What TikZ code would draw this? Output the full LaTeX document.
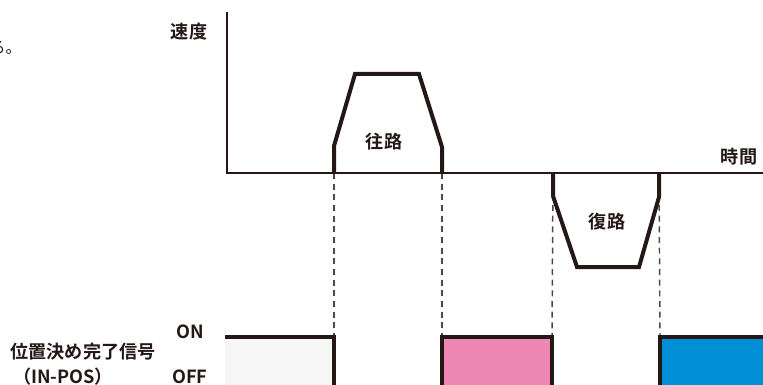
\documentclass[tikz,border=0pt]{standalone}
\usepackage{fontspec}
\newfontfamily\jpb{Noto Sans CJK JP Bold}
\newfontfamily\jpr{Noto Sans CJK JP}
\definecolor{txt}{HTML}{231815}
\definecolor{pinkfill}{HTML}{EE87B3}
\definecolor{bluefill}{HTML}{008FD5}
\definecolor{grayfill}{HTML}{F6F6F6}
\begin{document}
\begin{tikzpicture}[x=0.75pt,y=-0.75pt,
  axisline/.style={draw=txt,line width=1.1pt},
  profile/.style={draw=txt,line width=3pt,line join=miter},
  guide/.style={draw=txt!80,line width=1.1pt,dash pattern=on 4.5pt off 3.5pt},
  sig/.style={draw=txt,line width=2.4pt,line join=miter},
  lbl/.style={font=\jpb\fontsize{13.6pt}{16pt}\selectfont,text=txt,inner sep=0pt}]
\useasboundingbox (0,0) rectangle (763,385);
% coordinates
\coordinate (ytop) at (227,12);
\coordinate (org) at (227,173);
\coordinate (xend) at (763,173);
\coordinate (f0) at (334,173);
\coordinate (f1) at (334,146);
\coordinate (f2) at (355,74);
\coordinate (f3) at (419,74);
\coordinate (f4) at (442,147);
\coordinate (f5) at (442,173);
\coordinate (r0) at (553,173);
\coordinate (r1) at (553,196);
\coordinate (r2) at (577,267);
\coordinate (r3) at (639,267);
\coordinate (r4) at (659,197);
\coordinate (r5) at (659,173);
\coordinate (on0) at (225,337);
\coordinate (s1) at (334,337);
\coordinate (s1b) at (334,392);
\coordinate (s2) at (442,337);
\coordinate (s2b) at (442,392);
\coordinate (s3) at (552,337);
\coordinate (s3b) at (552,392);
\coordinate (s4) at (660,337);
\coordinate (s4b) at (660,392);
\coordinate (s5) at (770,337);
% fills
\fill[grayfill] (on0) rectangle (s1b);
\fill[pinkfill] (s2) rectangle (s3b);
\fill[bluefill] (s4) rectangle (770,392);
% guides
\draw[guide] (f0) -- (s1);
\draw[guide] (f5) -- (s2);
\draw[guide] (r0) -- (s3);
\draw[guide] (r5) -- (s4);
% axes
\draw[axisline] (ytop) -- (org) -- (xend);
% profiles
\draw[profile] (f0) -- (f1) -- (f2) -- (f3) -- (f4) -- (f5);
\draw[profile] (r0) -- (r1) -- (r2) -- (r3) -- (r4) -- (r5);
% signal
\draw[sig] (on0) -- (s1) -- (s1b);
\draw[sig] (s2b) -- (s2) -- (s3) -- (s3b);
\draw[sig] (s4b) -- (s4) -- (s5);
% labels
\node[lbl] (vel) at (189,32) {速度};
\node[lbl] (time) at (739,157) {時間};
\node[lbl] (fwd) at (384,142) {往路};
\node[lbl] (rev) at (607,222) {復路};
\node[lbl] (on) at (190,332) {ON};
\node[lbl] (off) at (190,377) {OFF};
\node[lbl] (signame) at (83,352) {位置決め完了信号};
\node[lbl] (sigsub) at (63,377) {（IN-POS）};
\node[font=\jpr\fontsize{12pt}{14pt}\selectfont,text=txt,inner sep=0pt,anchor=east] (cut) at (22,48) {る。};
\end{tikzpicture}
\end{document}
